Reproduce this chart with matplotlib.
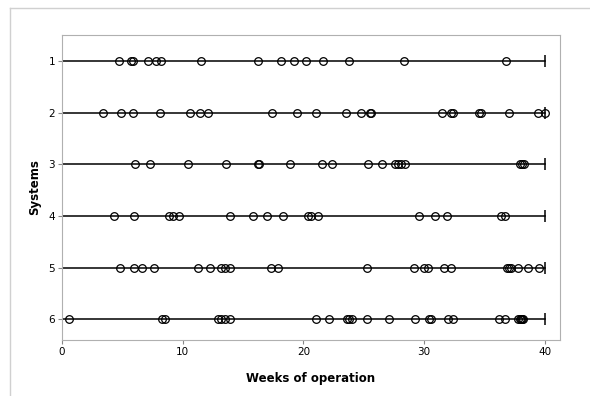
import numpy as np
import matplotlib.pyplot as plt
from matplotlib.lines import Line2D

# failure times (weeks) per system
sys1 = [4.75, 5.7, 5.9, 7.1, 7.8, 8.2, 11.5, 16.2, 18.1, 19.2, 20.2, 21.6, 23.8, 28.3, 36.8]
sys2 = [3.4, 4.9, 5.9, 8.1, 10.6, 11.4, 12.1, 17.4, 19.5, 21.0, 23.5, 24.8, 25.5, 25.6,
        31.5, 32.2, 32.4, 34.5, 34.7, 37.0, 39.4, 40.0]
sys3 = [6.05, 7.3, 10.45, 13.55, 16.2, 16.3, 18.9, 21.55, 22.4, 25.35, 26.5, 27.6, 27.85,
        28.1, 28.4, 37.9, 38.1, 38.3]
sys4 = [4.3, 5.95, 8.85, 9.2, 9.7, 13.9, 15.8, 17.0, 18.3, 20.4, 20.6, 21.2, 29.6, 30.9,
        31.85, 36.4, 36.7]
sys5 = [4.8, 6.0, 6.65, 7.6, 11.25, 12.3, 13.2, 13.5, 13.95, 17.35, 17.9, 25.3, 29.15,
        30.0, 30.3, 31.65, 32.2, 36.9, 37.0, 37.2, 37.8, 38.6, 39.5]
sys6 = [0.6, 8.3, 8.5, 12.95, 13.2, 13.5, 13.9, 21.0, 22.1, 23.6, 23.8, 24.0, 25.3, 27.1,
        29.2, 30.4, 30.6, 32.0, 32.4, 36.2, 36.7, 37.8, 37.9, 38.0, 38.1, 38.2]
systems = [1, 2, 3, 4, 5, 6]
data = [sys1, sys2, sys3, sys4, sys5, sys6]
end_time = 40

fig = plt.figure(figsize=(5.9, 3.96), dpi=100)
ax = fig.add_axes([62/590, 1 - 340/396, (560-62)/590, (340-35)/396])

for s, times in zip(systems, data):
    ax.plot([0, end_time], [s, s], color='black', lw=1.1, zorder=1)
    ax.plot([end_time], [s], marker='|', color='black', markersize=9, mew=1.1, zorder=2)
    ax.plot(times, [s]*len(times), 'o', mfc='none', mec='black', mew=0.9,
            markersize=5.5, zorder=3, clip_on=False)

ax.set_xlim(0, 41.25)
ax.set_ylim(6.4, 0.5)
ax.set_xticks([0, 10, 20, 30, 40])
ax.set_yticks(systems)
ax.tick_params(labelsize=7.5, length=3, color='#888888', pad=2)
ax.set_xlabel('Weeks of operation', fontsize=8.5, fontweight='bold', va='center')
ax.set_ylabel('Systems', fontsize=8.5, fontweight='bold', va='center')
ax.xaxis.set_label_coords(0.5, -0.125)
ax.yaxis.set_label_coords(-0.055, 0.5)
for sp in ax.spines.values():
    sp.set_color('#b0b0b0')

# screenshot border lines
fig.add_artist(Line2D([10/590, 10/590], [0, 1 - 8/396], color='#d0d0d0', lw=1))
fig.add_artist(Line2D([10/590, 1], [1 - 8/396, 1 - 8/396], color='#d0d0d0', lw=1))

fig.savefig('out.png')
